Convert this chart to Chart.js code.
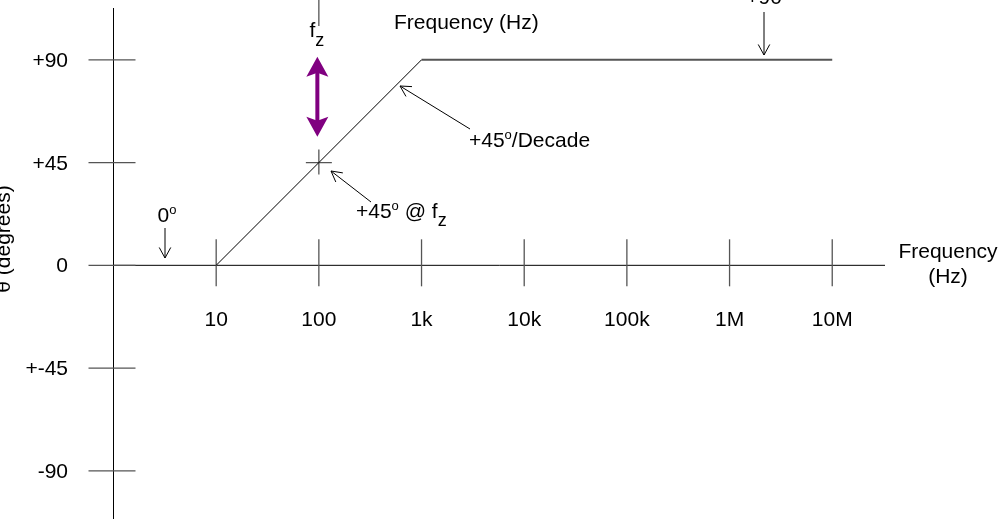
<!DOCTYPE html>
<html>
<head>
<meta charset="utf-8">
<script src="https://cdn.jsdelivr.net/npm/chart.js@4"></script>
<style>
html, body { margin: 0; padding: 0; background: #fff; }
</style>
</head>
<body>
<canvas id="chart" width="1000" height="519"></canvas>
<script>
// Bode phase plot of a single zero at fz = 100 Hz
const freq = [10, 1000, 10000000];
const phase = [0, 90, 90];
const decadeTicks = [10, 100, 1000, 10000, 100000, 1000000, 10000000];
const decadeLabels = ['10', '100', '1k', '10k', '100k', '1M', '10M'];
const phaseTicks = [90, 45, 0, -45, -90];
const phaseLabels = ['+90', '+45', '0', '+-45', '-90'];
const fz = 100;
const fzArrow = [56.3, 91.4];   // purple double arrow, degrees

const FONT = '"Liberation Sans", Arial, sans-serif';
const FS = 21;

function arrowHead(ctx, x1, y1, x2, y2, len) {
    const a = Math.atan2(y2 - y1, x2 - x1);
    ctx.beginPath();
    ctx.moveTo(x2 - len * Math.cos(a - 0.5), y2 - len * Math.sin(a - 0.5));
    ctx.lineTo(x2, y2);
    ctx.lineTo(x2 - len * Math.cos(a + 0.5), y2 - len * Math.sin(a + 0.5));
    ctx.stroke();
}

function arrow(ctx, x1, y1, x2, y2) {
    ctx.beginPath();
    ctx.moveTo(x1, y1);
    ctx.lineTo(x2, y2);
    ctx.stroke();
    arrowHead(ctx, x1, y1, x2, y2, 12);
}

// text with a superscript "o" (degree) or subscript part
function richText(ctx, parts, x, y, align) {
    let w = 0;
    parts.forEach(p => {
        ctx.font = p.size + 'px ' + FONT;
        w += ctx.measureText(p.t).width;
    });
    let cx = align === 'center' ? x - w / 2 : x;
    ctx.textAlign = 'left';
    parts.forEach(p => {
        ctx.font = p.size + 'px ' + FONT;
        ctx.fillText(p.t, cx, y + (p.dy || 0));
        cx += ctx.measureText(p.t).width;
    });
}

const axesPlugin = {
    id: 'bodeAxes',
    beforeDatasetsDraw(chart) {
        const ctx = chart.ctx;
        const xs = chart.scales.x, ys = chart.scales.y;
        const x0 = xs.getPixelForValue(1);
        const y0 = ys.getPixelForValue(0);
        ctx.save();
        // main axes
        ctx.strokeStyle = '#000';
        ctx.lineWidth = 1;
        ctx.beginPath();
        ctx.moveTo(x0, 8);
        ctx.lineTo(x0, 519);
        ctx.moveTo(x0, y0);
        ctx.lineTo(885, y0);
        ctx.stroke();

        // y ticks
        ctx.strokeStyle = '#555';
        ctx.lineWidth = 1.3;
        ctx.fillStyle = '#000';
        ctx.font = FS + 'px ' + FONT;
        ctx.textBaseline = 'alphabetic';
        phaseTicks.forEach((v, i) => {
            const py = ys.getPixelForValue(v);
            ctx.beginPath();
            ctx.moveTo(x0 - 25, py);
            ctx.lineTo(x0 + 22, py);
            ctx.stroke();
            ctx.textAlign = 'right';
            ctx.fillText(phaseLabels[i], 68, py + 7);
        });

        // x ticks
        decadeTicks.forEach((v, i) => {
            const px = xs.getPixelForValue(v);
            ctx.beginPath();
            ctx.moveTo(px, y0 - 26);
            ctx.lineTo(px, y0 + 21);
            ctx.stroke();
            ctx.textAlign = 'center';
            ctx.fillText(decadeLabels[i], px, 326);
        });

        // fz marker line at top and crosshair at +45
        const pfz = xs.getPixelForValue(fz);
        const p45 = ys.getPixelForValue(45);
        ctx.beginPath();
        ctx.moveTo(pfz, 0);
        ctx.lineTo(pfz, 26);
        ctx.moveTo(pfz - 13, p45);
        ctx.lineTo(pfz + 13, p45);
        ctx.moveTo(pfz, p45 - 13);
        ctx.lineTo(pfz, p45 + 12);
        ctx.stroke();
        ctx.restore();
    },
    afterDatasetsDraw(chart) {
        const ctx = chart.ctx;
        const xs = chart.scales.x, ys = chart.scales.y;
        const pfz = xs.getPixelForValue(fz);
        ctx.save();
        ctx.fillStyle = '#000';
        ctx.strokeStyle = '#000';
        ctx.lineWidth = 1;
        ctx.textBaseline = 'alphabetic';

        // axis titles
        ctx.font = FS + 'px ' + FONT;
        ctx.textAlign = 'left';
        ctx.fillText('Frequency (Hz)', 394, 29);
        ctx.textAlign = 'center';
        ctx.fillText('Frequency', 948, 258);
        ctx.fillText('(Hz)', 948, 283);
        ctx.save();
        ctx.translate(10, 239);
        ctx.rotate(-Math.PI / 2);
        ctx.fillText('\u03b8 (degrees)', 0, 0);
        ctx.restore();

        // fz label
        richText(ctx, [{ t: 'f', size: FS }, { t: 'z', size: 18, dy: 9 }], pfz - 2, 37, 'center');

        // annotations
        ctx.textAlign = 'center';
        ctx.font = FS + 'px ' + FONT;
        ctx.fillText('+90', 764, 4);
        arrow(ctx, 764, 12, 764, 55);

        richText(ctx, [{ t: '0', size: FS }, { t: 'o', size: 13, dy: -8 }], 167, 222, 'center');
        arrow(ctx, 165, 228, 165, 258);

        richText(ctx, [{ t: '+45', size: FS }, { t: 'o', size: 13, dy: -8 }, { t: '/Decade', size: FS }], 469, 147, 'left');
        arrow(ctx, 470, 129, 400, 86);

        richText(ctx, [{ t: '+45', size: FS }, { t: 'o', size: 13, dy: -8 }, { t: ' @ f', size: FS }, { t: 'z', size: 18, dy: 8 }], 356, 218, 'left');
        arrow(ctx, 371, 202, 331, 171);

        // purple double arrow at fz
        const yTop = ys.getPixelForValue(fzArrow[1]);
        const yBot = ys.getPixelForValue(fzArrow[0]);
        const ax = pfz - 1.5;
        ctx.fillStyle = '#800080';
        ctx.strokeStyle = '#800080';
        ctx.lineWidth = 4;
        ctx.beginPath();
        ctx.moveTo(ax, yTop + 15);
        ctx.lineTo(ax, yBot - 15);
        ctx.stroke();
        ctx.beginPath();
        ctx.moveTo(ax, yTop);
        ctx.lineTo(ax - 11, yTop + 20);
        ctx.lineTo(ax, yTop + 16);
        ctx.lineTo(ax + 11, yTop + 20);
        ctx.closePath();
        ctx.fill();
        ctx.beginPath();
        ctx.moveTo(ax, yBot);
        ctx.lineTo(ax - 11, yBot - 20);
        ctx.lineTo(ax, yBot - 16);
        ctx.lineTo(ax + 11, yBot - 20);
        ctx.closePath();
        ctx.fill();
        ctx.restore();
    }
};

const risePoints = freq.slice(0, 2).map((f, i) => ({ x: f, y: phase[i] }));
const flatPoints = freq.slice(1).map((f, i) => ({ x: f, y: phase[i + 1] }));

new Chart(document.getElementById('chart').getContext('2d'), {
    type: 'scatter',
    data: {
        datasets: [{
            data: risePoints,
            showLine: true,
            borderColor: '#000',
            borderWidth: 1,
            pointRadius: 0
        }, {
            data: flatPoints,
            showLine: true,
            borderColor: '#555',
            borderWidth: 2,
            pointRadius: 0
        }]
    },
    options: {
        responsive: false,
        animation: false,
        layout: { padding: 0 },
        plugins: {
            legend: { display: false },
            tooltip: { enabled: false }
        },
        scales: {
            x: {
                type: 'logarithmic',
                display: false,
                min: Math.pow(10, -1.1055),
                max: Math.pow(10, 8.634)
            },
            y: {
                type: 'linear',
                display: false,
                min: -111.1,
                max: 116.2
            }
        }
    },
    plugins: [axesPlugin]
});
</script>
</body>
</html>
